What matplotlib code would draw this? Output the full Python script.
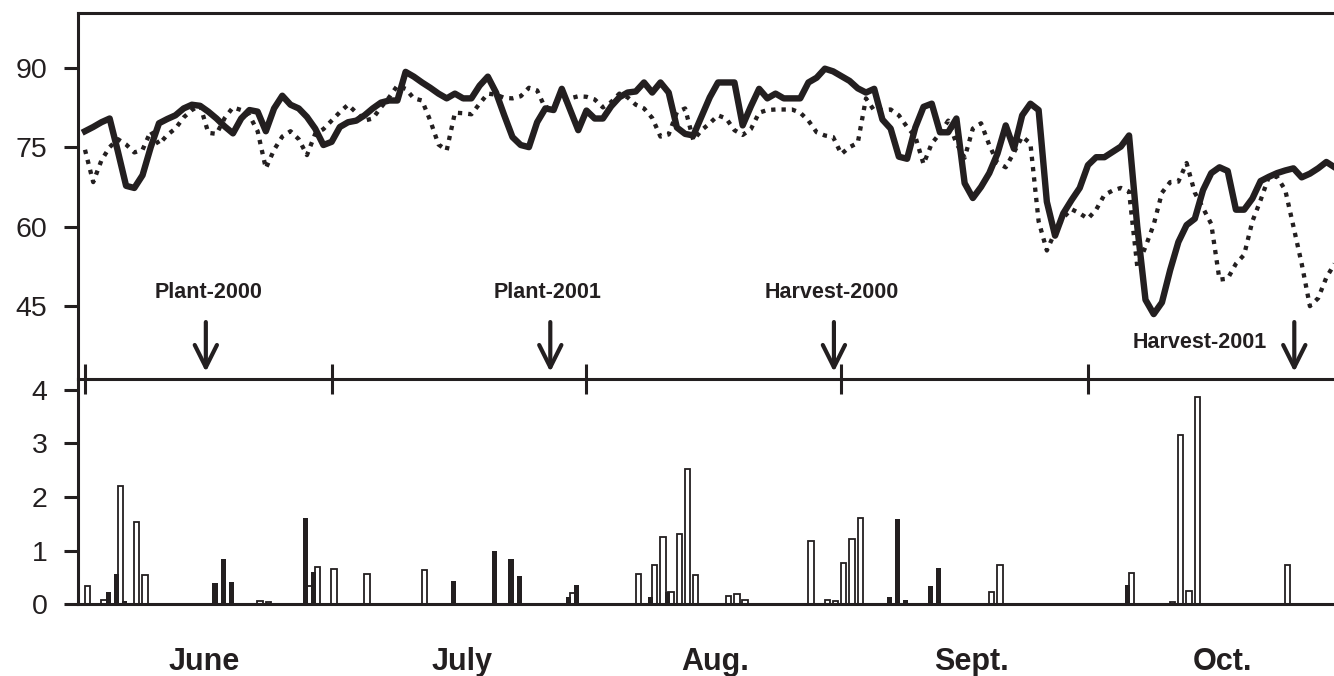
import matplotlib
matplotlib.use('Agg')
import matplotlib.pyplot as plt
import numpy as np

plt.rcParams['font.family'] = ['Liberation Sans', 'DejaVu Sans']
ink = '#231f20'

# daily values, day 0 = June 1
solid = [78, 78.8, 79.7, 80.4, 74.2, 67.7, 67.3, 69.7, 75, 79.5,
         80.3, 81, 82.3, 83, 82.8, 81.7, 80.4, 78.9, 77.6, 80.4,
         82, 81.7, 78, 82.3, 84.7, 83, 82.3, 80.7, 78.5, 75.4,
         76, 78.8, 79.7, 80, 81, 82.3, 83.4, 83.8, 83.8, 89.2,
         88.3, 87.2, 86.2, 85.1, 84.2, 85.1, 84.2, 84.2, 86.6, 88.3,
         85.3, 81, 76.9, 75.4, 75, 79.7, 82.3, 82, 86, 82.1,
         78.2, 81.9, 80.4, 80.4, 82.7, 84.4, 85.3, 85.5, 87.2, 85.3,
         87.2, 85.3, 78.7, 77.5, 77.2, 80.8, 84.4, 87.2, 87.2, 87.2,
         79.1, 82.7, 86, 84.2, 85.1, 84.2, 84.2, 84.2, 87.2, 88.1,
         89.8, 89.3, 88.4, 87.5, 86.1, 85.3, 86, 80.2, 78.5, 73.2,
         72.8, 78.7, 82.6, 83.2, 77.8, 77.8, 80.4, 68.2, 65.4, 67.5,
         70.1, 73.8, 79.1, 74.7, 81, 83.2, 82, 64.7, 58.3, 62.5,
         65, 67.3, 71.6, 73.1, 73.1, 74.1, 75.1, 77.2, 60, 46.2,
         43.5, 45.7, 51.8, 57.1, 60.3, 61.5, 66.9, 70.1, 71.2, 70.5,
         63.2, 63.2, 65.3, 68.6, 69.4, 70.1, 70.6, 71, 69.3, 70,
         71, 72.2, 71.2]
dotted = [74.5, 68.4, 72.5, 75, 76.5, 75.5, 74, 74.5, 78, 75.5,
          77.3, 78.5, 80.6, 82, 82.9, 77.7, 77.5, 80.5, 82.5, 82,
          81, 78, 71, 74.5, 77, 78, 76.5, 73.5, 77.5, 78.4,
          80, 81.6, 83, 81.5, 80, 80.4, 82.5, 84.4, 86.6, 86,
          84.2, 83.8, 80, 75.5, 74.4, 81.5, 81.4, 81.2, 83.2, 85.1,
          84.9, 84.3, 84.2, 84.6, 86.2, 85.7, 82.3, 83, 84, 84.2,
          84.6, 84.5, 84, 82.5, 83.5, 85.1, 84.4, 83, 82.3, 80.5,
          77, 77.4, 81.6, 82.3, 76.3, 78.2, 79.5, 81, 80.4, 78.2,
          77.3, 78.4, 81.5, 82, 82.1, 82.1, 82.1, 81.5, 80, 77.8,
          77.2, 76.9, 73.7, 75, 75.8, 84.2, 81.9, 82, 82.1, 81,
          78.8, 77, 71.8, 75.7, 77.6, 80, 75.7, 73, 78.5, 79.5,
          75.4, 72, 71.2, 74, 77, 75.7, 61, 55.5, 59, 61.7,
          63.3, 62.5, 61.5, 63.2, 66, 66.8, 67.3, 66.6, 52.5, 56.2,
          60.4, 66.4, 68.4, 68.5, 72, 66.4, 63.5, 60.5, 50, 50.2,
          53, 54.7, 61, 65, 69.4, 69.4, 66.9, 60, 53, 45,
          46.5, 50.4, 53]
days = np.arange(len(solid))

filled_days = [3, 4, 5, 16, 17, 18, 27, 28, 45, 50, 52, 53, 59, 60, 61,
               69, 71, 98, 99, 100, 103, 104, 122, 127]
filled_vals = [0.24, 0.57, 0.06, 0.40, 0.85, 0.41, 1.60, 0.60, 0.43, 0.99,
               0.85, 0.53, 0.14, 0.36, 0.03, 0.14, 0.23, 0.13, 1.59, 0.08,
               0.35, 0.67, 0.03, 0.37]
open_days = [0, 2, 4, 6, 7, 21, 22, 27, 28, 30, 34, 41, 59, 67, 69, 70, 71,
             72, 73, 74, 78, 79, 80, 88, 90, 91, 92, 93, 94, 110, 111, 127,
             132, 133, 134, 135, 146]
open_vals = [0.34, 0.08, 2.20, 1.53, 0.54, 0.06, 0.05, 0.35, 0.69, 0.66,
             0.56, 0.65, 0.22, 0.56, 0.74, 1.25, 0.23, 1.32, 2.53, 0.55,
             0.15, 0.19, 0.08, 1.19, 0.08, 0.07, 0.77, 1.22, 1.61, 0.23,
             0.74, 0.59, 0.05, 3.15, 0.25, 3.86, 0.74]

month_names = ['June', 'July', 'Aug.', 'Sept.', 'Oct.']
month_starts = [0, 30, 61, 92, 122]
month_mids = [14.5, 45.9, 76.6, 107.8, 138.4]

events = ['Plant-2000', 'Plant-2001', 'Harvest-2000', 'Harvest-2001']
event_days = [14.7, 56.6, 91.1, 147.1]
label_pos = [(15.0, 46.45), (56.3, 46.45), (90.8, 46.45), (135.6, 37.1)]

fig = plt.figure(figsize=(13.34, 6.76), dpi=100)
ax2 = fig.add_axes([0.05847, 0.1058, 0.94153, 0.3335])
ax1 = fig.add_axes([0.05847, 0.4393, 0.94153, 0.5422])
for ax in (ax1, ax2):
    ax.set_facecolor('none')
    ax.set_xlim(-0.85, 151.93)
    ax.spines['right'].set_visible(False)
    for s in ('left', 'top', 'bottom'):
        ax.spines[s].set_linewidth(2.2)
        ax.spines[s].set_color(ink)
    ax.tick_params(axis='y', direction='out', length=10, width=2.2, pad=12,
                   labelsize=20.5, colors=ink)

# top panel
ax1.plot(days, solid, color=ink, lw=4.6)
ax1.plot(days, dotted, color=ink, lw=3.1, linestyle=(0, (1, 1.4)),
         dash_capstyle='butt')
ax1.set_ylim(31.25, 100.4)
ax1.set_yticks([45, 60, 75, 90])
ax1.set_xticks(month_starts)
ax1.tick_params(axis='x', direction='inout', length=21.6, width=2.2,
                color=ink, labelbottom=False)

for name, d, (tx, ty) in zip(events, event_days, label_pos):
    ax1.annotate('', xy=(d, 32.6), xytext=(d, 42.0),
                 arrowprops=dict(arrowstyle='->,head_length=0.4,head_width=0.2',
                                 lw=3, color=ink, mutation_scale=40,
                                 shrinkA=0, shrinkB=0))
    ax1.text(tx, ty, name, ha='center', va='baseline', fontsize=15.5,
             fontweight='bold', color=ink)

# bottom panel
ax2.spines['top'].set_visible(False)
ax2.bar(np.array(open_days) + 0.3, open_vals, width=0.645,
        facecolor='white', edgecolor=ink, lw=1.3)
ax2.bar(np.array(filled_days) - 0.18, filled_vals, width=0.645, color=ink)
ax2.set_ylim(0, 4.195)
ax2.set_yticks([0, 1, 2, 3, 4])
ax2.set_xticks(month_mids, month_names)
ax2.tick_params(axis='x', length=0, pad=30.5, labelsize=22, colors=ink)
for lab in ax2.get_xticklabels():
    lab.set_fontweight('bold')

fig.savefig('out.png', dpi=100)
